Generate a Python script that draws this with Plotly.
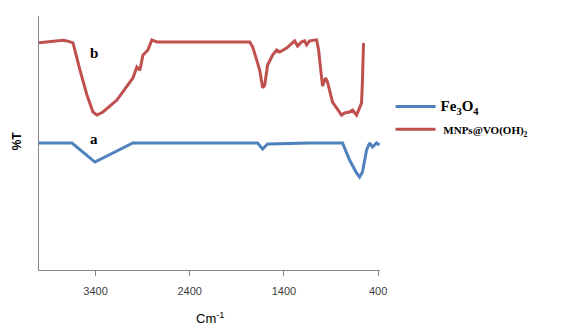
import plotly.graph_objects as go

# Wavenumbers (cm-1) and %T for each sample
fe3o4_wn = [4000, 3650, 3406, 3004, 1679, 1626, 1573, 1339, 1127, 778, 703, 629, 597, 566, 523, 491, 459, 417, 385]
fe3o4_t = [50.0, 50.0, 42.5, 50.0, 50.0, 47.6, 49.6, 49.8, 50.0, 50.0, 43.3, 38.2, 36.6, 38.6, 47.2, 50.0, 48.4, 50.0, 49.2]

vo_wn = [4000, 3883, 3799, 3746, 3703, 3671, 3639, 3565, 3491, 3427, 3385, 3321, 3173, 3003, 2961, 2929,
         2897, 2844, 2802, 2749, 2293, 1763, 1731, 1689, 1657, 1626, 1604, 1573, 1520, 1477, 1445, 1371,
         1339, 1286, 1255, 1212, 1180, 1159, 1127, 1053, 1032, 1000, 990, 958, 937, 884, 841, 788, 756,
         703, 672, 650, 629, 597, 576, 566, 555]
vo_t = [89.5, 89.8, 90.2, 90.4, 90.2, 89.8, 89.4, 78.7, 68.9, 62.2, 61.0, 62.2, 66.9, 75.6, 79.9, 78.7,
        84.6, 86.6, 90.6, 89.8, 89.8, 89.8, 87.8, 82.7, 78.7, 71.7, 72.8, 80.7, 84.6, 86.6, 85.8, 87.4,
        88.6, 90.2, 88.2, 89.8, 90.2, 88.6, 90.2, 90.6, 86.6, 73.6, 72.4, 75.6, 74.0, 66.1, 63.8, 61.0, 61.8,
        62.2, 63.0, 61.8, 61.0, 63.8, 65.7, 74.8, 89.4]

x_ticks = [3400, 2400, 1400, 400]
series_names = ['<span style="font-size:15px"><b>Fe<sub>3</sub>O<sub>4</sub></b></span>',
                '<span style="font-size:11px"><b> MNPs@VO(OH)<sub>2</sub></b></span>']
curve_labels = ["a", "b"]
label_pos = [(3420, 51.5), (3420, 85.5)]

fig = go.Figure()
fig.add_trace(go.Scatter(x=fe3o4_wn, y=fe3o4_t, mode="lines", name=series_names[0],
                         legendgroup="g1", line=dict(color="#4F81BD", width=3)))
fig.add_trace(go.Scatter(x=vo_wn, y=vo_t, mode="lines", name=series_names[1],
                         legendgroup="g2", line=dict(color="#C0504D", width=3)))

for lab, (lx, ly) in zip(curve_labels, label_pos):
    fig.add_annotation(x=lx, y=ly, text=f"<b>{lab}</b>", showarrow=False,
                       font=dict(family="Liberation Serif", size=15, color="#000000"))

# y-axis title placed as rotated text left of the axis
fig.add_annotation(xref="paper", yref="paper", x=-0.062, y=0.51, xanchor="center", yanchor="middle",
                   text="<b>%T</b>", showarrow=False, textangle=-90,
                   font=dict(family="Liberation Sans", size=12, color="#000000"))
# x-axis title
fig.add_annotation(xref="paper", yref="paper", x=0.502, y=-0.19, xanchor="center", yanchor="middle",
                   text="Cm<sup>-1</sup>", showarrow=False,
                   font=dict(family="Liberation Sans", size=13, color="#000000"))

fig.update_layout(
    width=561, height=317,
    margin=dict(l=31, r=189, t=8, b=55, autoexpand=False),
    plot_bgcolor="white", paper_bgcolor="white",
    showlegend=True,
    legend=dict(x=1.031, y=0.703, xanchor="left", yanchor="top", itemwidth=40,
                font=dict(family="Liberation Serif", size=13, color="#000000"),
                tracegroupgap=3, bgcolor="rgba(0,0,0,0)"),
    xaxis=dict(range=[4000, 380], tickvals=x_ticks, ticktext=[str(t) for t in x_ticks],
               automargin=False,
               showline=True, linecolor="#868686", linewidth=1, showgrid=False, zeroline=False,
               ticks="outside", ticklen=5, tickcolor="#868686", ticklabelstandoff=6,
               tickfont=dict(family="Liberation Sans", size=11, color="#404040")),
    yaxis=dict(range=[0, 100], automargin=False, showline=True, linecolor="#868686", linewidth=1,
               showgrid=False, zeroline=False, showticklabels=False, ticks=""),
)

fig.write_html("out.html")
